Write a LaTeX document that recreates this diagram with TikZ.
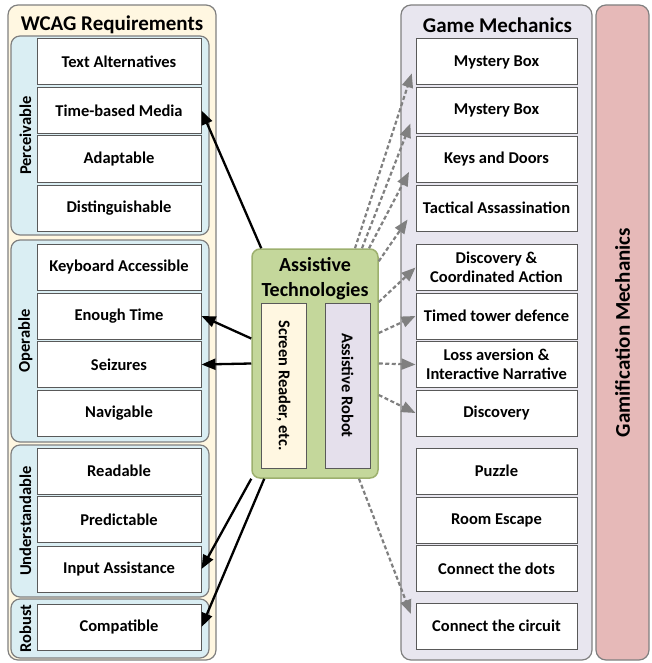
\documentclass[tikz,border=0pt]{standalone}
\usepackage{fontspec}
\setmainfont{Carlito}
\usetikzlibrary{arrows.meta}

\definecolor{wcagfill}{HTML}{FFF7E1}
\definecolor{groupfill}{HTML}{DAEEF3}
\definecolor{gamefill}{HTML}{E8E6EF}
\definecolor{gamifill}{HTML}{E6B9B8}
\definecolor{atfill}{HTML}{C4D79B}
\definecolor{atline}{HTML}{9DB06E}
\definecolor{robotfill}{HTML}{E5E0EC}

\begin{document}
\begin{tikzpicture}[x=1pt,y=-1pt,
  panel/.style={draw=black!50, line width=1.2pt, rounded corners=10pt},
  item/.style={draw=black!65, fill=white, line width=1pt, minimum width=164pt, minimum height=46pt, inner sep=1pt, align=center, font=\bfseries\fontsize{16.5}{19.5}\selectfont},
  gitem/.style={item, minimum width=161pt},
  heading/.style={font=\bfseries\fontsize{21}{25}\selectfont},
  grouplabel/.style={rotate=90, font=\bfseries\fontsize{16.5}{19.5}\selectfont},
  sub/.style={draw=black!65, line width=1pt, rotate=-90, minimum width=165pt, minimum height=45pt, font=\bfseries\fontsize{16.5}{19.5}\selectfont},
  arr/.style={black, line width=2.3pt, -{Triangle[length=14pt,width=11pt]}},
  darr/.style={black!50, line width=2.2pt, dash pattern=on 4pt off 2.5pt, -{Triangle[length=14pt,width=11pt]}}]
\useasboundingbox (0,0) rectangle (652,663);
% define variables
\pgfmathparse{119}\let\lx=\pgfmathresult
\pgfmathparse{496.5}\let\rx=\pgfmathresult

% draw panels
\draw[panel, fill=wcagfill] (8,5) rectangle (216,660);
\draw[panel, fill=gamefill] (401,5) rectangle (592,660);
\draw[panel, fill=gamifill] (596,5) rectangle (649,660);
\foreach \ya/\yb in {36/235, 240/442, 445/597, 599/658}{
	\draw[panel, fill=groupfill, rounded corners=9pt] (11,\ya) rectangle (209,\yb);
}

% headings
\node[heading] (wcag) at (112,25) {WCAG Requirements};
\node[heading] (game) at (497.5,25) {Game Mechanics};
\node[heading, rotate=90] (gami) at (622.5,332.5) {Gamification Mechanics};
\foreach \n/\y/\t in {perc/135.5/Perceivable, oper/341/Operable, und/521/Understandable, rob/628.5/Robust}{
	\node[grouplabel] (\n) at (25.5,\y) {\t};
}

% draw requirement boxes
\foreach \n/\y/\t in {p1/62/Text Alternatives, p2/110.5/Time-based Media, p3/159/Adaptable, p4/208/Distinguishable, o1/267.5/Keyboard Accessible, o2/316/Enough Time, o3/364.5/Seizures, o4/413/Navigable, u1/471/Readable, u2/519.5/Predictable, u3/569/Input Assistance, r1/627/Compatible}{
	\node[item] (\n) at (\lx,\y) {\t};
}
% draw mechanic boxes
\foreach \n/\y/\t in {g1/62/Mystery Box, g2/110.5/Mystery Box, g3/159.5/Keys and Doors, g4/208/Tactical Assassination, g5/267.5/{Discovery \&\\Coordinated Action}, g6/316/Timed tower defence, g7/364.5/{Loss aversion \&\\Interactive Narrative}, g8/413/Discovery, g9/471/Puzzle, g10/520/Room Escape, g11/568.5/Connect the dots, g12/626/Connect the circuit}{
	\node[gitem] (\n) at (\rx,\y) {\t};
}

% assistive technologies
\node[draw=atline, fill=atfill, line width=1.5pt, rounded corners=8pt, minimum width=126pt, minimum height=229pt] (at) at (315,363.5) {};
\node[align=center, font=\bfseries\fontsize{20}{25}\selectfont] (attl) at (315,279) {Assistive\\Technologies};
\node[sub, fill=wcagfill] (sr) at (283.5,385.5) {Screen Reader, etc.};
\node[sub, fill=robotfill] (ar) at (347.5,385.5) {Assistive Robot};

% arrows to requirements
\draw[arr] ([xshift=10pt]at.north west) -- (p2.east);
\draw[arr] ([yshift=25pt]at.west) -- (o2.east);
\draw[arr] (at.west) -- (o3.east);
\draw[arr] (at.south west) -- (u3.east);
\draw[arr] ([xshift=13pt]at.south west) -- (r1.east);

% arrows to mechanics
\draw[darr, shorten >=12pt] ([xshift=40pt]at.north) -- (g1.west);
\draw[darr, shorten >=14pt] ([xshift=47pt]at.north) -- (g2.west);
\draw[darr, shorten >=14pt] ([xshift=54pt]at.north) -- (g3.west);
\draw[darr, shorten >=14pt] ([yshift=-13pt]at.north east) -- (g4.west);
\draw[darr] ([yshift=61.5pt]at.east) -- (g5.west);
\draw[darr] ([yshift=30.5pt]at.east) -- (g6.west);
\draw[darr] (at.east) -- (g7.west);
\draw[darr] ([yshift=-31.5pt]at.east) -- (g8.west);
\draw[darr, shorten >=13pt] ([xshift=44pt]at.south) -- (g12.west);
\end{tikzpicture}
\end{document}
